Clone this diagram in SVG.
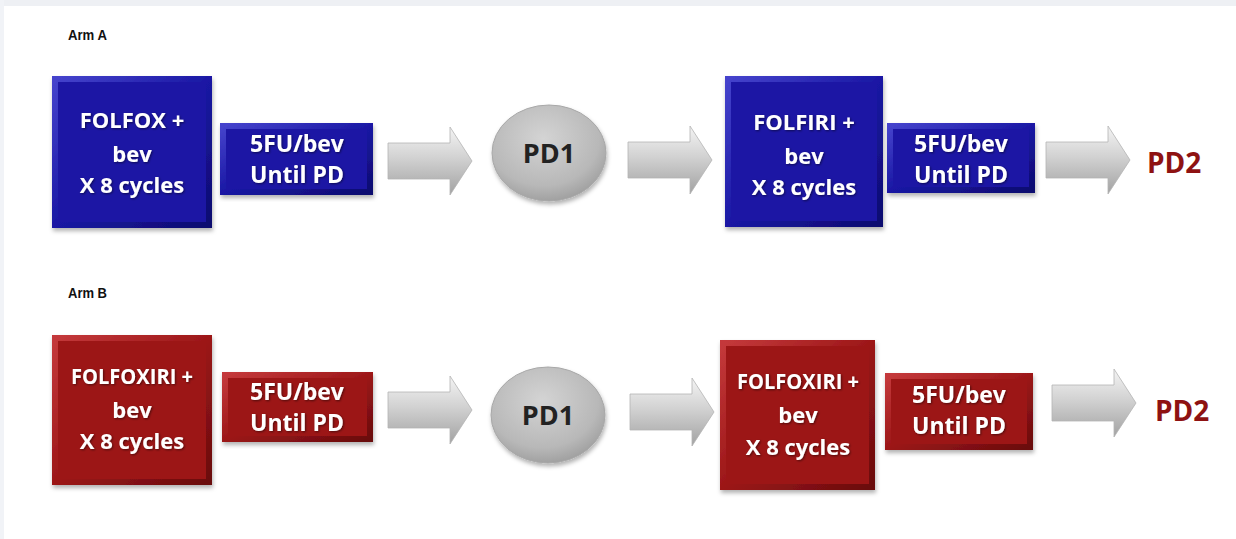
<svg xmlns="http://www.w3.org/2000/svg" xmlns:xlink="http://www.w3.org/1999/xlink" width="1236" height="539" viewBox="0 0 1236 539">
<style>
.lbl{font-family:"Liberation Sans",Arial,sans-serif;font-weight:bold;font-size:14px;fill:#111}
.bx{font-family:"Open Sans","Liberation Sans",sans-serif;font-weight:bold;font-size:22px;fill:#fff;text-anchor:middle;filter:url(#ts)}
.sm{font-size:23px}
.pd1{font-family:"Open Sans","Liberation Sans",sans-serif;font-weight:bold;font-size:27px;fill:#222;text-anchor:middle}
.pd2{font-family:"Open Sans","Liberation Sans",sans-serif;font-weight:bold;font-size:28px;fill:#8e1212}
.blue{fill:#1a18a4;stroke:url(#bevB);stroke-width:6;filter:url(#sh)}
.red{fill:#9c1718;stroke:url(#bevR);stroke-width:6;filter:url(#sh)}
.arr{fill:url(#ag);stroke:#b4b4b4;stroke-width:0.8}
.pdc{fill:url(#pg);stroke:#a8a8a8;stroke-width:1;filter:url(#sh)}
</style>
<defs>
<linearGradient id="bevB" x1="0" y1="0" x2="1" y2="1">
<stop offset="0" stop-color="#4543cc"/><stop offset="0.5" stop-color="#1a18a4"/><stop offset="1" stop-color="#0e0c70"/>
</linearGradient>
<linearGradient id="bevR" x1="0" y1="0" x2="1" y2="1">
<stop offset="0" stop-color="#c4393b"/><stop offset="0.5" stop-color="#9c1718"/><stop offset="1" stop-color="#6a0c0e"/>
</linearGradient>
<linearGradient id="ag" x1="0" y1="0" x2="0" y2="1">
<stop offset="0" stop-color="#f4f4f4"/><stop offset="0.45" stop-color="#d2d2d2"/><stop offset="1" stop-color="#a2a2a2"/>
</linearGradient>
<radialGradient id="pg" cx="0.45" cy="0.35" r="0.7">
<stop offset="0" stop-color="#d4d4d4"/><stop offset="0.7" stop-color="#b8b8b8"/><stop offset="1" stop-color="#9a9a9a"/>
</radialGradient>
<filter id="sh" x="-10%" y="-10%" width="125%" height="125%">
<feDropShadow dx="1" dy="3" stdDeviation="2" flood-color="#000" flood-opacity="0.3"/>
</filter>
<filter id="ts" x="-10%" y="-30%" width="125%" height="160%">
<feDropShadow dx="1" dy="1" stdDeviation="0.8" flood-color="#000" flood-opacity="0.5"/>
</filter>
<path id="arrow" d="M0,-18 L62,-18 L62,-34 L84,0 L62,34 L62,18 L0,18 Z"/>
</defs>
<rect width="1236" height="539" fill="#fff"/>
<rect width="1236" height="6" fill="#eef0f4"/>
<rect width="4" height="539" fill="#f1f3f7"/>

<text class="lbl" x="68" y="40" textLength="39" lengthAdjust="spacingAndGlyphs">Arm A</text>
<text class="lbl" x="68" y="298" textLength="39" lengthAdjust="spacingAndGlyphs">Arm B</text>

<g id="connectors">
<use href="#arrow" class="arr" x="388" y="161"/>
<use href="#arrow" class="arr" x="628" y="160"/>
<use href="#arrow" class="arr" x="1046" y="160"/>
<use href="#arrow" class="arr" x="388" y="410"/>
<use href="#arrow" class="arr" x="630" y="412"/>
<use href="#arrow" class="arr" x="1052" y="403"/>
</g>

<g id="a1">
<rect class="blue" x="55" y="79" width="154" height="146"/>
<text class="bx"><tspan x="132" y="128">FOLFOX +</tspan><tspan x="132" y="162">bev</tspan><tspan x="132" y="193">X 8 cycles</tspan></text>
</g>
<g id="a2">
<rect class="blue" x="223" y="126" width="147" height="66"/>
<text class="bx sm"><tspan x="297" y="152">5FU/bev</tspan><tspan x="297" y="183">Until PD</tspan></text>
</g>
<g id="a-pd1">
<ellipse class="pdc" cx="549" cy="153" rx="57" ry="48"/>
<text class="pd1" x="549" y="163">PD1</text>
</g>
<g id="a3">
<rect class="blue" x="728" y="79" width="152" height="145"/>
<text class="bx"><tspan x="804" y="130">FOLFIRI +</tspan><tspan x="804" y="164">bev</tspan><tspan x="804" y="195">X 8 cycles</tspan></text>
</g>
<g id="a4">
<rect class="blue" x="890" y="126" width="142" height="64"/>
<text class="bx sm"><tspan x="961" y="152">5FU/bev</tspan><tspan x="961" y="183">Until PD</tspan></text>
</g>
<g id="a-pd2">
<text class="pd2" x="1147" y="173">PD2</text>
</g>

<g id="b1">
<rect class="red" x="55" y="338" width="154" height="144"/>
<text class="bx"><tspan x="132" y="384" textLength="122" lengthAdjust="spacingAndGlyphs">FOLFOXIRI +</tspan><tspan x="132" y="418">bev</tspan><tspan x="132" y="449">X 8 cycles</tspan></text>
</g>
<g id="b2">
<rect class="red" x="225" y="375" width="145" height="64"/>
<text class="bx sm"><tspan x="297" y="400">5FU/bev</tspan><tspan x="297" y="431">Until PD</tspan></text>
</g>
<g id="b-pd1">
<ellipse class="pdc" cx="548" cy="415" rx="57" ry="48"/>
<text class="pd1" x="548" y="425">PD1</text>
</g>
<g id="b3">
<rect class="red" x="723" y="343" width="149" height="144"/>
<text class="bx"><tspan x="798" y="389" textLength="122" lengthAdjust="spacingAndGlyphs">FOLFOXIRI +</tspan><tspan x="798" y="423">bev</tspan><tspan x="798" y="455">X 8 cycles</tspan></text>
</g>
<g id="b4">
<rect class="red" x="888" y="376" width="142" height="71"/>
<text class="bx sm"><tspan x="959" y="403">5FU/bev</tspan><tspan x="959" y="434">Until PD</tspan></text>
</g>
<g id="b-pd2">
<text class="pd2" x="1155" y="421">PD2</text>
</g>
</svg>
